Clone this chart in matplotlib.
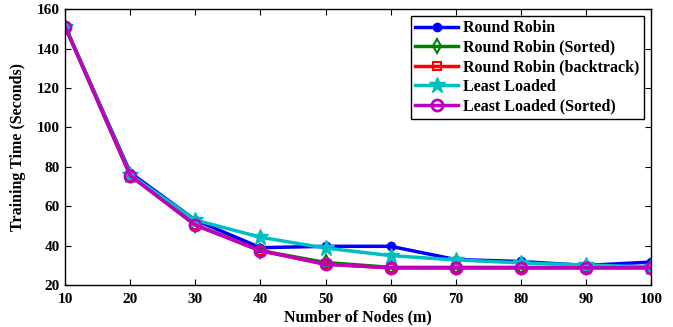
import numpy as np
import matplotlib.pyplot as plt

plt.rcParams['font.family'] = ['Liberation Serif', 'DejaVu Serif']
plt.rcParams['font.weight'] = 'bold'

nodes = [10, 20, 30, 40, 50, 60, 70, 80, 90, 100]
round_robin = [151, 77, 53, 39, 39.7, 39.7, 33, 32, 30, 31.7]
round_robin_sorted = [151, 76, 50.5, 37.5, 31.5, 29, 29, 29, 29, 29]
round_robin_backtrack = [151, 75.5, 50.5, 37.5, 30.6, 28.8, 28.8, 28.8, 28.8, 28.8]
least_loaded = [151, 76, 53, 44.3, 38.8, 35, 32.8, 31.3, 30.2, 29.2]
least_loaded_sorted = [151, 75.5, 50.5, 37.5, 30.6, 28.8, 28.8, 28.8, 28.8, 28.8]


def main():
    fig, ax = plt.subplots(figsize=(6.73, 3.27), dpi=100)
    fig.subplots_adjust(left=0.097, right=0.967, top=0.972, bottom=0.128)

    lw = 2.5
    ax.plot(nodes, round_robin, color="#0000ff", marker="o", markersize=6,
            linewidth=lw, label="Round Robin")
    ax.plot(nodes, round_robin_sorted, color="#008000", marker="d",
            markersize=7, markerfacecolor="none", markeredgewidth=1.5,
            linewidth=lw, label="Round Robin (Sorted)")
    ax.plot(nodes, round_robin_backtrack, color="#ff0000", marker="s",
            markersize=6, markerfacecolor="none", markeredgewidth=1.5,
            linewidth=lw, label="Round Robin (backtrack)")
    ax.plot(nodes, least_loaded, color="#00bfbf", marker="*", markersize=12,
            linewidth=lw, label="Least Loaded")
    ax.plot(nodes, least_loaded_sorted, color="#bf00bf", marker="o",
            markersize=8, markerfacecolor="none", markeredgewidth=2,
            linewidth=lw, label="Least Loaded (Sorted)")

    ax.set_xlim(10, 100)
    ax.set_ylim(20, 160)
    ax.set_xticks(nodes)
    ax.set_yticks(range(20, 161, 20))
    ax.tick_params(direction="in", top=True, right=True, labelsize=11,
                   length=4)
    ax.tick_params(axis="x", pad=6)
    ax.tick_params(axis="y", pad=4)
    for lab in ax.get_xticklabels() + ax.get_yticklabels():
        lab.set_fontweight("bold")
    for s in ax.spines.values():
        s.set_linewidth(1.0)

    ax.set_xlabel("Number of Nodes (m)", fontsize=11.5, fontweight="bold",
                  labelpad=2)
    ax.set_ylabel("Training Time (Seconds)", fontsize=11.5, fontweight="bold",
                  labelpad=8)

    leg = ax.legend(loc="upper right", fancybox=False,
                    edgecolor="black", framealpha=1, borderpad=0.3,
                    labelspacing=0.22, handlelength=2.7, handletextpad=0.3,
                    borderaxespad=0.4, prop={"weight": "bold", "size": 11.5})
    leg.get_frame().set_linewidth(1.0)

    fig.savefig("out.png", dpi=100)


if __name__ == "__main__":
    main()
